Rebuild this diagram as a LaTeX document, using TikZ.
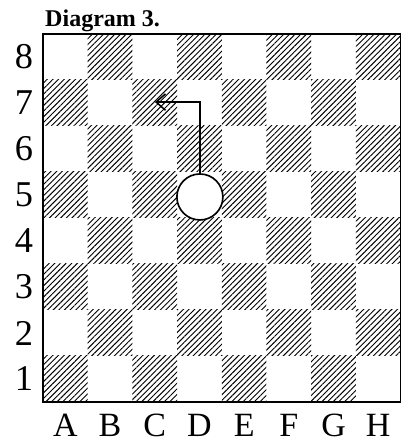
\documentclass[tikz,border=0pt]{standalone}
\usepackage{fontspec}
\setmainfont{Liberation Serif}
\usetikzlibrary{patterns.meta,arrows.meta}
\tikzset{
  darksq/.style={pattern={Lines[angle=45,distance=3.4pt,line width=0.8pt]}},
  ranklabel/.style={font=\fontsize{31}{31}\selectfont, inner sep=0pt},
  filelabel/.style={font=\fontsize{29}{29}\selectfont, inner sep=0pt},
}
\begin{document}
\begin{tikzpicture}[x=1.341cm,y=1.38cm]
  \useasboundingbox (-0.962,-0.87) rectangle (8.02,8.739);

  % hatched squares
  \foreach \i in {0,...,7}
    \foreach \j in {0,...,7}{
      \pgfmathparse{int(mod(\i+\j,2))}
      \ifnum\pgfmathresult=0
        \fill[darksq] (\i,\j) rectangle ++(1,1);
      \fi
    }
  \draw[line width=1.3pt] (0,0) rectangle (8,8);

  % labels
  \node[anchor=base west, font=\bfseries\fontsize{20.5}{20.5}\selectfont, inner sep=0pt] (title) at (0.045,8.152) {Diagram 3.};
  \foreach \r in {1,...,8}
    \node[ranklabel] (rank\r) at (-0.425,\r-0.5) {\r};
  \foreach \f [count=\k] in {A,B,C,D,E,F,G,H}
    \node[filelabel] (file\f) at (\k-0.5,-0.5) {\f};

  % piece and its move
  \node[draw, circle, fill=white, minimum size=1.38cm, inner sep=0pt, line width=1.4pt] (piece) at (3.51,4.457) {};
  \coordinate (target) at (2.505,6.52);
  \draw[line width=1.3pt, -{Straight Barb[length=8pt,width=14pt]}] (piece.north) |- (target);
\end{tikzpicture}
\end{document}
